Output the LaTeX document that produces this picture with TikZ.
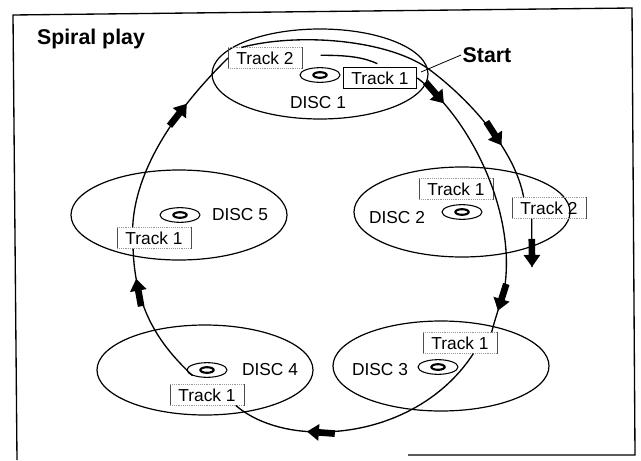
\documentclass[tikz,border=0pt]{standalone}
\usepackage{fontspec}
\setmainfont{Liberation Sans}
\usetikzlibrary{shapes.geometric, arrows.meta, decorations.markings}

\tikzset{
    disc/.style={ellipse, draw, line width=0.9pt, minimum width=162pt, minimum height=67.5pt, inner sep=0pt},
    cd/.style={ellipse, draw, line width=0.8pt, minimum width=30pt, minimum height=11pt, inner sep=0pt,
        path picture={\draw[line width=1.6pt] (path picture bounding box.center) ellipse [x radius=5pt, y radius=2.1pt];}},
    disclabel/.style={font=\fontsize{13}{15}\selectfont, inner sep=1pt},
    trackbox/.style={font=\fontsize{13}{15}\selectfont, inner sep=0pt, minimum width=55pt, minimum height=15.5pt},
    firsttrack/.style={trackbox, draw, line width=1pt},
    brackettrack/.style={trackbox, append after command={
        (\tikzlastnode.north west) edge[line width=0.6pt, black!70] (\tikzlastnode.south west)
        (\tikzlastnode.north east) edge[line width=0.6pt, black!70] (\tikzlastnode.south east)
        (\tikzlastnode.north west) edge[densely dotted, black!40, line width=0.4pt] (\tikzlastnode.north east)
        (\tikzlastnode.south west) edge[densely dotted, black!40, line width=0.4pt] (\tikzlastnode.south east)}},
    spiral/.style={line width=1pt},
    flow/.style={line width=5pt, -{Triangle[length=9pt, width=12pt]}},
    flowmark/.style={postaction={decorate, decoration={markings,
        mark=at position #1 with {\draw[flow] (-21pt,0) -- (0pt,0);}}}}
}

\begin{document}
\begin{tikzpicture}[x=0.75pt, y=-0.75pt]
    \useasboundingbox (0,0) rectangle (641,460);

    % Frame (open at the bottom left)
    \draw[line width=1pt] (17,460) -- (13,15) -- (632,8) -- (635,455) -- (408,455);

    % Titles
    \node[font=\bfseries\fontsize{16}{18}\selectfont] (title) at (91,39) {Spiral play};
    \node[font=\bfseries\fontsize{16}{18}\selectfont, inner sep=1pt] (start) at (487,55) {Start};

    % Discs
    \node[disc] (d1) at (320,74) {};
    \node[disc] (d2) at (462,212) {};
    \node[disc] (d3) at (441,366) {};
    \node[disc] (d4) at (205,370) {};
    \node[disc] (d5) at (179,215) {};

    % Disc icons
    \node[cd] (cd1) at (320,75) {};
    \node[cd] (cd2) at (462,212) {};
    \node[cd] (cd3) at (438,367) {};
    \node[cd] (cd4) at (207,370) {};
    \node[cd] (cd5) at (180,215) {};

    % Disc labels
    \node[disclabel] (l1) at (318,103) {DISC 1};
    \node[disclabel] (l2) at (397,218) {DISC 2};
    \node[disclabel] (l3) at (380,370) {DISC 3};
    \node[disclabel] (l4) at (270,370) {DISC 4};
    \node[disclabel] (l5) at (240,215) {DISC 5};

    % Tracks
    \node[firsttrack] (t1a) at (380,78) {Track 1};
    \node[brackettrack] (t2a) at (265,58) {Track 2};
    \node[brackettrack] (t1b) at (456,189) {Track 1};
    \node[brackettrack] (t2b) at (549,208) {Track 2};
    \node[brackettrack] (t1c) at (460,343) {Track 1};
    \node[brackettrack] (t1d) at (207,395) {Track 1};
    \node[brackettrack] (t1e) at (154,238) {Track 1};

    % Start leader
    \coordinate (s0) at (421,72);
    \draw[line width=0.6pt] (start.west) -- (s0);

    % Inner turn: track 1 of every disc
    \draw[spiral, flowmark=0.13, flowmark=0.92] (t1a.east) .. controls (470,118) and (515,210) .. (505,285)
        .. controls (502,300) and (496,315) .. ([xshift=-4pt]t1c.north east);
    \draw[spiral, flowmark=0.715] ([xshift=10pt]t1c.south) .. controls (440,405) and (380,432) .. (320,432)
        .. controls (285,432) and (255,422) .. ([xshift=-6pt]t1d.south east);
    \draw[spiral, flowmark=0.79] (cd4.south west) .. controls (160,345) and (135,310) .. ([xshift=12pt]t1e.south west);
    \draw[spiral, flowmark=0.69] ([xshift=-16pt]t1e.north) .. controls (135,170) and (175,110) .. (t2a.west);

    % Outer turn: track 2
    \draw[spiral] ([shift={(14pt,2pt)}]t2a.east) .. controls (350,55) and (365,58) .. ([shift={(-2pt,2.5pt)}]t1a.north);
    \draw[spiral, flowmark=0.84] ([xshift=10pt]t2a.north west) .. controls (300,32) and (390,40) .. (430,70)
        .. controls (470,100) and (515,150) .. ([xshift=-19pt]t2b.north);
    \coordinate (e2) at (532,267);
    \draw[spiral, flowmark=0.999] ([xshift=-13pt]t2b.south) -- (e2);
\end{tikzpicture}
\end{document}
